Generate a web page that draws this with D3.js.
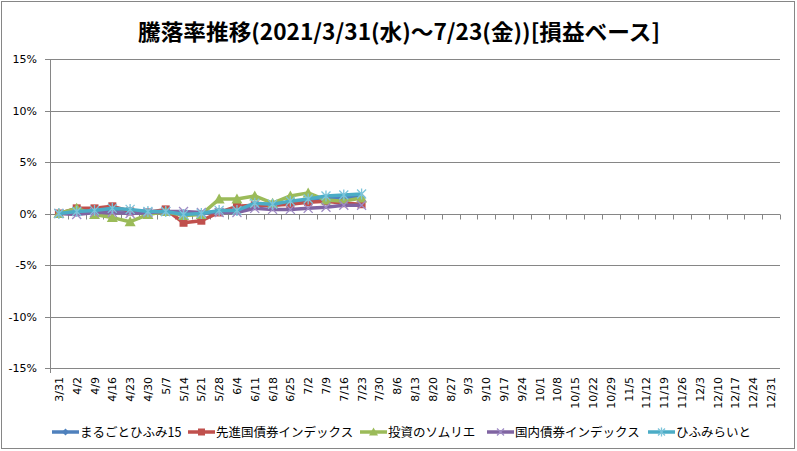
<!DOCTYPE html>
<html>
<head>
<meta charset="utf-8">
<script src="https://cdn.jsdelivr.net/npm/d3@7"></script>
<style>
  body { margin: 0; background: #fff; }
  text { font-family: "Noto Sans CJK JP", "Noto Sans", sans-serif; }
  text.tick { font-family: "DejaVu Sans", sans-serif; font-size: 11px; }
</style>
</head>
<body>
<div id="chart"></div>
<script>
const width = 797
const height = 451

// weekly categories on the x axis
const dates = ["3/31","4/2","4/9","4/16","4/23","4/30","5/7","5/14","5/21","5/28","6/4","6/11","6/18","6/25",
  "7/2","7/9","7/16","7/23","7/30","8/6","8/13","8/20","8/27","9/3","9/10","9/17","9/24","10/1","10/8",
  "10/15","10/22","10/29","11/5","11/12","11/19","11/26","12/3","12/10","12/17","12/24","12/31"]

// return in percent, 3/31 .. 7/23
const marugoto = [0, 0.2, 0.3, 0.4, 0.3, 0.2, 0.2, -0.1, 0.0, 0.2, 0.2, 0.8, 0.8, 1.0, 1.2, 1.4, 1.5, 1.6]
const senshinkoku = [0, 0.5, 0.5, 0.7, 0.2, 0.1, 0.4, -0.9, -0.7, 0.1, 0.7, 0.8, 0.8, 0.9, 1.1, 1.2, 1.0, 0.9]
const sommelier = [0, 0.5, -0.1, -0.4, -0.8, -0.1, 0.2, -0.2, -0.1, 1.4, 1.4, 1.7, 1.0, 1.7, 2.0, 1.3, 1.2, 1.5]
const kokunai = [0, -0.1, 0.1, 0.1, 0.0, 0.1, 0.2, 0.2, 0.1, 0.1, 0.1, 0.5, 0.4, 0.4, 0.5, 0.6, 0.8, 0.8]
const hifumiraito = [0, 0.2, 0.3, 0.5, 0.4, 0.2, 0.2, -0.1, 0.0, 0.3, 0.3, 1.0, 0.9, 1.2, 1.4, 1.7, 1.8, 1.9]

const yTicks = [-15, -10, -5, 0, 5, 10, 15]

const series = [
  {name: "まるごとひふみ15", values: marugoto, color: "#4F81BD", mark: "diamond"},
  {name: "先進国債券インデックス", values: senshinkoku, color: "#C0504D", mark: "square"},
  {name: "投資のソムリエ", values: sommelier, color: "#9BBB59", mark: "triangle"},
  {name: "国内債券インデックス", values: kokunai, color: "#8064A2", mark: "x"},
  {name: "ひふみらいと", values: hifumiraito, color: "#4BACC6", mark: "star"}
]

const plot = {left: 50, right: 780, top: 59, bottom: 368}

const svg = d3.select("#chart")
  .append("svg")
  .attr("width", width)
  .attr("height", height)

// chart border
svg.append("rect")
  .attr("x", 1.5).attr("y", 1.5)
  .attr("width", width - 4).attr("height", height - 4)
  .attr("fill", "#fff")
  .attr("stroke", "#868686")

svg.append("text")
  .attr("x", 399)
  .attr("y", 40)
  .attr("text-anchor", "middle")
  .attr("font-size", 22)
  .attr("font-weight", "bold")
  .attr("textLength", 522)
  .attr("lengthAdjust", "spacingAndGlyphs")
  .text("騰落率推移(2021/3/31(水)～7/23(金))[損益ベース]")

const x = d3.scaleBand()
  .domain(dates)
  .range([plot.left, plot.right])
  .paddingInner(0)
  .paddingOuter(0)

const y = d3.scaleLinear()
  .domain([-15, 15])
  .range([plot.bottom, plot.top])

// gridlines + y labels
const grid = svg.append("g")
grid.selectAll("line")
  .data(yTicks)
  .enter()
  .append("line")
  .attr("x1", plot.left - 5)
  .attr("x2", plot.right)
  .attr("y1", d => Math.round(y(d)) + 0.5)
  .attr("y2", d => Math.round(y(d)) + 0.5)
  .attr("stroke", "#868686")

grid.selectAll("text")
  .data(yTicks)
  .enter()
  .append("text")
  .attr("class", "tick")
  .attr("x", 37)
  .attr("y", d => y(d) + 4)
  .attr("text-anchor", "end")
  .text(d => d + "%")

// y axis line
svg.append("line")
  .attr("x1", plot.left + 0.5).attr("x2", plot.left + 0.5)
  .attr("y1", plot.top).attr("y2", plot.bottom + 5)
  .attr("stroke", "#868686")

// category tick marks hang under the 0% line
const y0 = Math.round(y(0)) + 0.5
svg.append("g")
  .selectAll("line")
  .data(dates)
  .enter()
  .append("line")
  .attr("x1", d => Math.round(x(d) + x.bandwidth()) + 0.5)
  .attr("x2", d => Math.round(x(d) + x.bandwidth()) + 0.5)
  .attr("y1", y0)
  .attr("y2", y0 + 5)
  .attr("stroke", "#868686")

// x labels, rotated
svg.append("g")
  .selectAll("text")
  .data(dates)
  .enter()
  .append("text")
  .attr("class", "tick")
  .attr("transform", d => "translate(" + (x(d) + x.bandwidth() / 2 + 4) + "," + (plot.bottom + 9) + ") rotate(-90)")
  .attr("text-anchor", "end")
  .text(d => d)

function drawMarker(g, type, color, size) {
  const s = size
  if (type == "diamond") {
    g.append("path").attr("d", `M0,${-s}L${s},0L0,${s}L${-s},0Z`).attr("fill", color)
  } else if (type == "square") {
    g.append("rect").attr("x", -s).attr("y", -s).attr("width", 2 * s).attr("height", 2 * s).attr("fill", color)
  } else if (type == "triangle") {
    g.append("path").attr("d", `M0,${-s - 1}L${s + 1},${s}L${-s - 1},${s}Z`).attr("fill", color)
  } else if (type == "x") {
    g.append("path").attr("d", `M${-s},${-s}L${s},${s}M${s},${-s}L${-s},${s}`)
      .attr("stroke", "#9F8BC4").attr("stroke-width", 1.3)
  } else if (type == "star") {
    g.append("path").attr("d", `M${-s},${-s}L${s},${s}M${s},${-s}L${-s},${s}M0,${-s - 1}L0,${s + 1}`)
      .attr("stroke", "#7CC4DA").attr("stroke-width", 1.3)
  }
}

const line = d3.line()
  .x((d, i) => x(dates[i]) + x.bandwidth() / 2)
  .y(d => y(d))

series.forEach(s => {
  const g = svg.append("g")
  g.append("path")
    .datum(s.values)
    .attr("d", line)
    .attr("fill", "none")
    .attr("stroke", s.color)
    .attr("stroke-width", 3.5)
    .attr("stroke-linejoin", "round")
  s.values.forEach((v, i) => {
    const m = g.append("g")
      .attr("transform", "translate(" + (x(dates[i]) + x.bandwidth() / 2) + "," + y(v) + ")")
    drawMarker(m, s.mark, s.color, s.mark == "diamond" ? 4 : (s.mark == "square" ? 4 : 4.5))
  })
})

// legend
const legendX = [52, 188, 360, 487, 648]
const legend = svg.append("g")
series.forEach((s, i) => {
  const lg = legend.append("g")
    .attr("transform", "translate(" + legendX[i] + ",432)")
  lg.append("line")
    .attr("x1", 0).attr("x2", 27)
    .attr("stroke", s.color)
    .attr("stroke-width", 3.5)
  drawMarker(lg.append("g").attr("transform", "translate(13.5,0)"), s.mark, s.color, 3.5)
  lg.append("text")
    .attr("x", 28)
    .attr("y", 5)
    .attr("font-size", 12.5)
    .text(s.name)
})
</script>
</body>
</html>
